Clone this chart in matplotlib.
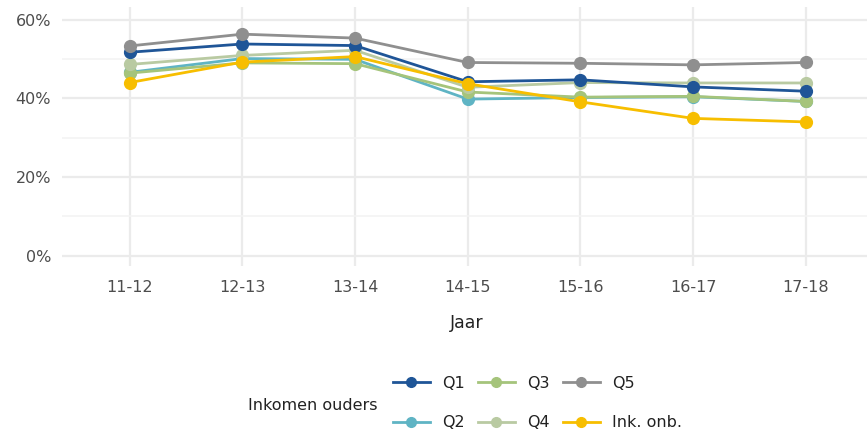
import numpy as np
import matplotlib.pyplot as plt
from matplotlib.lines import Line2D

# Data (percentages)
jaren = ["11-12", "12-13", "13-14", "14-15", "15-16", "16-17", "17-18"]
q1 = [51.7, 53.8, 53.4, 44.2, 44.7, 42.9, 41.8]
q2 = [46.6, 50.1, 49.9, 39.8, 40.2, 40.4, 39.2]
q3 = [46.4, 49.0, 48.8, 41.6, 40.3, 40.5, 39.2]
q4 = [48.6, 50.9, 52.2, 42.8, 44.0, 43.9, 43.9]
q5 = [53.3, 56.3, 55.3, 49.1, 48.9, 48.5, 49.1]
ink_onb = [44.0, 49.2, 50.6, 43.7, 39.1, 34.9, 34.0]

series = [
    ("Q1", q1, "#1f5597"),
    ("Q2", q2, "#5fb4c4"),
    ("Q3", q3, "#a5c47b"),
    ("Q4", q4, "#b9caa2"),
    ("Q5", q5, "#8f8f8f"),
    ("Ink. onb.", ink_onb, "#f7be00"),
]

text_col = "#4d4d4d"
grid_col = "#ebebeb"

fig = plt.figure(figsize=(8.67, 4.32), dpi=100)
ax = fig.add_axes([0.0715, 0.3843, 0.936, 0.5995])

x = np.arange(len(jaren))
# draw in an order so the top lines end up like the reference
draw_order = ["Q2", "Q3", "Q4", "Q1", "Q5", "Ink. onb."]
lookup = {name: (vals, col) for name, vals, col in series}
for name in draw_order:
    vals, col = lookup[name]
    ax.plot(x, vals, color=col, lw=2, marker="o", markersize=8.5, zorder=3)

ax.set_xlim(-0.6, len(jaren) - 1 + 0.6)
ax.set_ylim(-2.6, 63.2)
ax.set_xticks(x)
ax.set_xticklabels(jaren)
ax.set_yticks([0, 20, 40, 60])
ax.set_yticklabels(["0%", "20%", "40%", "60%"])
ax.set_yticks([10, 30, 50], minor=True)

for s in ax.spines.values():
    s.set_visible(False)
ax.grid(True, which="major", color=grid_col, lw=1.6, zorder=0)
ax.grid(True, which="minor", axis="y", color="#f3f3f3", lw=1.1, zorder=0)
ax.set_axisbelow(True)
ax.tick_params(axis="both", which="both", length=0, labelsize=11.5, labelcolor=text_col)
ax.tick_params(axis="x", pad=10)
ax.tick_params(axis="y", pad=8)

fig.text(467 / 867, 1 - 323 / 432, "Jaar", ha="center", va="center", fontsize=12.5, color="#222222")

# legend
handles = [Line2D([0], [0], color=col, lw=2, marker="o", markersize=7) for _, _, col in series]
labels = [name for name, _, _ in series]
leg = fig.legend(handles, labels, ncol=3, loc="center left",
                 bbox_to_anchor=(385 / 867, 1 - 403 / 432), frameon=False,
                 fontsize=11.5, handlelength=2.3, handletextpad=0.8,
                 columnspacing=0.8, labelspacing=1.55, borderpad=0)
for t in leg.get_texts():
    t.set_color("#222222")
fig.text(248 / 867, 1 - 406 / 432, "Inkomen ouders", ha="left", va="center", fontsize=11.5, color="#222222")

fig.savefig("out.png", dpi=100)
